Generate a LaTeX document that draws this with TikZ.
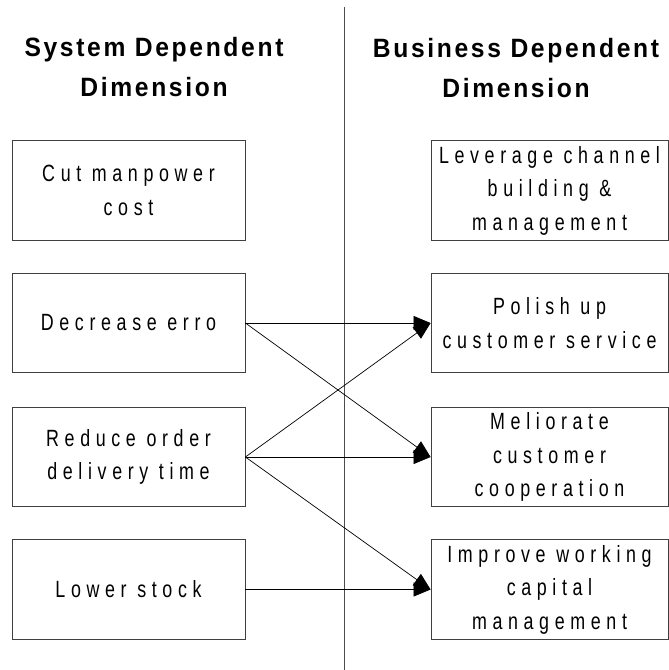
\documentclass[tikz,border=0pt]{standalone}
\usepackage{fontspec}
\usepackage{tikz}
\usetikzlibrary{
    arrows.meta,
    positioning
}
\newfontfamily\dimfont{Liberation Sans}[FakeStretch=0.76,LetterSpace=24]
\newfontfamily\titlefont{Liberation Sans}[FakeStretch=0.93,LetterSpace=10]

\tikzset{
    dimbox/.style={draw=black!75, line width=0.8pt, inner sep=0pt, align=center,
        minimum height=99.5pt, font=\dimfont\fontsize{23.5}{33.5}\selectfont},
    lbox/.style={dimbox, minimum width=233pt},
    rbox/.style={dimbox, minimum width=237pt},
    dimtitle/.style={align=center, font=\titlefont\bfseries\fontsize{26.5}{40}\selectfont},
    link/.style={->, >={Triangle[length=17pt,width=14pt]}, line width=0.7pt}
}

\begin{document}
\begin{tikzpicture}[x=1pt, y=-1pt]
                                \useasboundingbox (0, 0) rectangle (669, 670);
                                \coordinate (vtop) at (344.5, 7);
                                \coordinate (vbot) at (344.5, 670);
                                \draw[black!70, line width=0.8pt] (vtop) -- (vbot);

                                \node[dimtitle] (sd) at (154, 67) {System Dependent\\Dimension};
                                \node[dimtitle] (bd) at (516, 68) {Business Dependent\\Dimension};

                                \node[lbox] (cut) at (128.5, 190.5) {Cut manpower\\cost};
                                \node[lbox] (err) at (128.5, 323) {Decrease erro};
                                \node[lbox] (rod) at (128.5, 457) {Reduce order\\delivery time};
                                \node[lbox] (stk) at (128.5, 589.5) {Lower stock};
                                \node[rbox] (lev) at (549.5, 190.5) {Leverage channel\\building \&\\management};
                                \node[rbox] (pol) at (549.5, 323) {Polish up\\customer service};
                                \node[rbox] (mel) at (549.5, 457) {Meliorate\\customer\\cooperation};
                                \node[rbox] (imp) at (549.5, 589.5) {Improve working\\capital\\management};

                                \draw
                                (err.east) edge[link] (pol.west)
                                (err.east) edge[link] (mel.west)
                                (rod.east) edge[link] (pol.west)
                                (rod.east) edge[link] (mel.west)
                                (rod.east) edge[link] (imp.west)
                                (stk.east) edge[link] (imp.west);
                            \end{tikzpicture}
\end{document}
